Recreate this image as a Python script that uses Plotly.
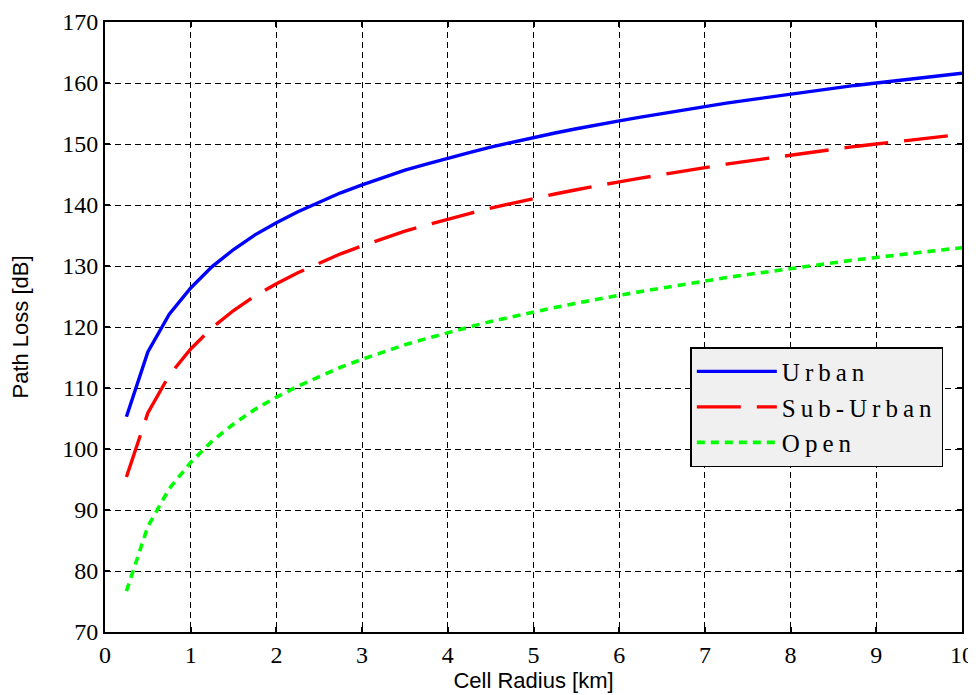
import plotly.graph_objects as go

radius_km = [0.25, 0.5, 0.75, 1.0, 1.25, 1.5, 1.75, 2.0, 2.25, 2.5, 2.75, 3.0, 3.25, 3.5, 3.75,
             4.0, 4.25, 4.5, 4.75, 5.0, 5.25, 5.5, 5.75, 6.0, 6.25, 6.5, 6.75, 7.0, 7.25, 7.5,
             7.75, 8.0, 8.25, 8.5, 8.75, 9.0, 9.25, 9.5, 9.75, 10.0]

urban = [105.3, 115.9, 122.1, 126.4, 129.9, 132.7, 135.1, 137.1, 138.9, 140.5, 142.0, 143.3,
         144.5, 145.7, 146.7, 147.7, 148.6, 149.5, 150.3, 151.1, 151.8, 152.5, 153.2, 153.8,
         154.4, 155.0, 155.6, 156.2, 156.7, 157.2, 157.7, 158.2, 158.7, 159.1, 159.6, 160.0,
         160.4, 160.8, 161.2, 161.6]

sub_urban = [95.4, 105.9, 112.1, 116.4, 119.9, 122.7, 125.1, 127.1, 128.9, 130.5, 132.0, 133.3,
             134.5, 135.7, 136.7, 137.7, 138.6, 139.5, 140.3, 141.1, 141.8, 142.5, 143.2, 143.8,
             144.4, 145.0, 145.6, 146.2, 146.7, 147.2, 147.7, 148.2, 148.7, 149.1, 149.6, 150.0,
             150.4, 150.8, 151.2, 151.6]

open_area = [76.7, 87.3, 93.5, 97.8, 101.3, 104.1, 106.5, 108.5, 110.3, 111.9, 113.4, 114.7,
             115.9, 117.1, 118.1, 119.1, 120.0, 120.9, 121.7, 122.5, 123.2, 123.9, 124.6, 125.2,
             125.8, 126.4, 127.0, 127.6, 128.1, 128.6, 129.1, 129.6, 130.1, 130.5, 131.0, 131.4,
             131.8, 132.2, 132.6, 133.0]

series_names = ["Urban", "Sub-Urban", "Open"]

x_ticks = [0, 1, 2, 3, 4, 5, 6, 7, 8, 9, 10]
y_ticks = [70, 80, 90, 100, 110, 120, 130, 140, 150, 160, 170]

fig = go.Figure()

def lbl(s):
    return '<span style="letter-spacing:5px">' + s + '</span>'

fig.add_trace(go.Scatter(x=radius_km, y=urban, mode="lines", name=lbl(series_names[0]),
                         line=dict(color="#0000ff", width=3.4)))
fig.add_trace(go.Scatter(x=radius_km, y=sub_urban, mode="lines", name=lbl(series_names[1]),
                         line=dict(color="#ff0000", width=3.4, dash="44px,16px")))
fig.add_trace(go.Scatter(x=radius_km, y=open_area, mode="lines", name=lbl(series_names[2]),
                         line=dict(color="#00ff00", width=3.6, dash="8px,6px")))

axis_common = dict(
    showline=True, linecolor="black", linewidth=2, mirror="ticks",
    ticks="inside", ticklen=5, tickwidth=2, tickcolor="black",
    showgrid=True, gridcolor="black", gridwidth=1.2, griddash="6px,4px",
    zeroline=False,
    tickfont=dict(family="Liberation Serif", size=24, color="black"),
)

fig.update_xaxes(range=[0, 10], tickmode="array", tickvals=x_ticks,
                 ticktext=[str(v) for v in x_ticks],
                 title=dict(text="Cell Radius [km]", standoff=6,
                            font=dict(family="Liberation Sans", size=22, color="black")),
                 **axis_common)
fig.update_yaxes(range=[70, 170], tickmode="array", tickvals=y_ticks,
                 ticktext=[str(v) for v in y_ticks],
                 title=dict(text="Path Loss [dB]", standoff=36,
                            font=dict(family="Liberation Sans", size=22, color="black")),
                 **axis_common)

fig.update_layout(
    width=968, height=687,
    margin=dict(l=97, r=14, t=14, b=63, autoexpand=False),
    paper_bgcolor="white", plot_bgcolor="white",
    showlegend=True,
    legend=dict(x=0.683, y=0.467, xanchor="left", yanchor="top",
                bgcolor="#f0f0f0", bordercolor="black", borderwidth=1.5,
                font=dict(family="Liberation Serif", size=25, color="black"),
                itemwidth=80, tracegroupgap=0),
)

fig.write_html("out.html")
